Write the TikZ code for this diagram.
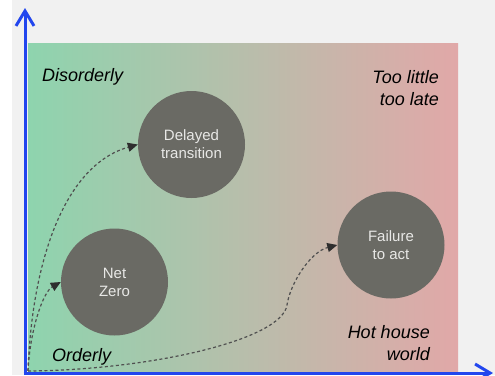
\documentclass[tikz,border=0pt]{standalone}
\usepackage{fontspec}
\setmainfont{Liberation Sans}
\usetikzlibrary{arrows.meta}
\definecolor{bggray}{HTML}{F1F1F1}
\definecolor{gleft}{HTML}{8ED4AE}
\definecolor{gright}{HTML}{E1A8A8}
\definecolor{axisblue}{HTML}{2246EE}
\definecolor{discgray}{HTML}{6A6A64}
\definecolor{disctext}{HTML}{E8E8E6}
\definecolor{dashgray}{HTML}{505050}
\definecolor{tipgray}{HTML}{2E2E2E}
\tikzset{
  axis/.style={draw=axisblue, line width=3pt, -{Straight Barb[length=15pt,width=18pt,line width=3pt]}},
  disc/.style={circle, fill=discgray, minimum size=107pt, inner sep=0pt, text=disctext,
    align=center, font=\fontsize{15}{18}\selectfont},
  flow/.style={draw=dashgray, line width=1.2pt, dash pattern=on 3pt off 2.5pt,
    -{Triangle[length=10pt,width=9pt,fill=tipgray,color=tipgray]}},
  lbl/.style={font=\fontsize{18}{22}\selectfont\itshape, text=black, inner sep=0pt},
}
\begin{document}
\begin{tikzpicture}[x=1pt,y=-1pt]
\useasboundingbox (0,0) rectangle (495,375);
\fill[white] (0,0) rectangle (495,375);
\fill[bggray] (12,0) rectangle (495,375);
\shade[left color=gleft, right color=gright] (28,43) rectangle (458,373);

\node[disc] (dt) at (191.5,144.5) {Delayed\\transition};
\node[disc] (nz) at (114.5,282) {Net\\Zero};
\node[disc] (fa) at (391,245) {Failure\\to act};

\node[lbl, anchor=base west] (dis) at (42,81) {Disorderly};
\node[lbl, anchor=base west] (ord) at (52,361) {Orderly};
\node[lbl, anchor=base east, align=right] (tl) at (439,105) {Too little\\too late};
\node[lbl, anchor=base east, align=right] (hh) at (430,360) {Hot house\\world};

\coordinate (start) at (28,371);
\draw[flow] (start) .. controls (32,260) and (65,165) .. (dt.west);
\draw[flow] (start) .. controls (30,330) and (43,292) .. (nz.west);
\draw[flow] (start) .. controls (150,370) and (282,340) .. (287,305)
  .. controls (290,284) and (310,252) .. (fa.west);

\coordinate (o) at (25,373);
\coordinate (ytip) at (25,8);
\coordinate (xtip) at (493,373);
\draw[axis] ([yshift=-1.5pt]o) -- (ytip);
\draw[axis] ([xshift=-1.5pt]o) -- (xtip);
\end{tikzpicture}
\end{document}
